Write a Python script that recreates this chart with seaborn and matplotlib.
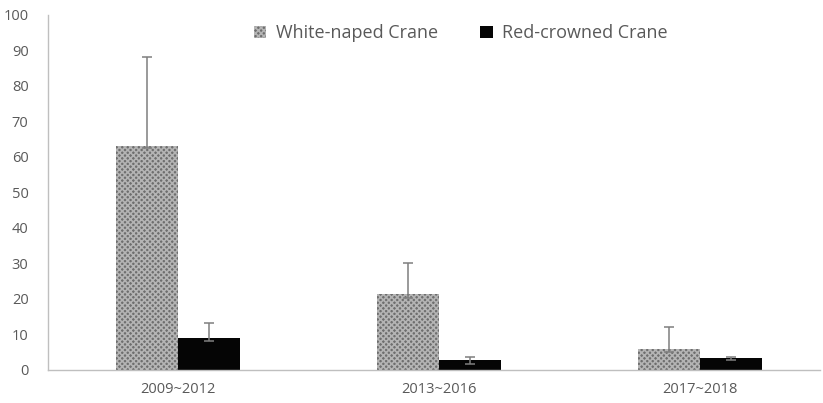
"""Crane counts by period - bar chart with error bars"""
import matplotlib.pyplot as plt
import matplotlib.patches as mpatches
import numpy as np
import pandas as pd
import seaborn as sns

periods = ["2009~2012", "2013~2016", "2017~2018"]
species = ["White-naped Crane", "Red-crowned Crane"]
white_naped = [63.1, 21.3, 5.8]
red_crowned = [9.1, 2.7, 3.3]
white_err_up = [25.0, 8.7, 6.2]
white_err_down = [0.6, 0.9, 0.6]
red_err_up = [4.2, 1.0, 0.5]
red_err_down = [0.9, 1.0, 0.6]

sns.set_theme(style="white")
plt.rcParams["font.family"] = ["Open Sans", "DejaVu Sans"]
plt.rcParams["hatch.linewidth"] = 1.2

df = pd.DataFrame({
    "period": periods * 2,
    "species": [species[0]] * 3 + [species[1]] * 3,
    "value": white_naped + red_crowned,
})

fig = plt.figure(figsize=(8.23, 4.03), dpi=100)
ax = fig.add_axes([0.0583, 0.0819, 0.9377, 0.8809])

sns.barplot(data=df, x="period", y="value", hue="species", hue_order=species,
            palette=["#6e6e6e", "#050505"], width=0.475, gap=0, errorbar=None,
            saturation=1, legend=False, ax=ax)

for cont in ax.containers:
    for bar in cont:
        bar.set_linewidth(0)
# 체크무늬 (white-naped)
for bar in ax.containers[0]:
    bar.set_hatch("xxxxxx")
    bar.set_edgecolor("#b4b4b4")

err_sets = [(white_err_down, white_err_up), (red_err_down, red_err_up)]
for cont, vals, (dn, up) in zip(ax.containers, [white_naped, red_crowned], err_sets):
    xs = [b.get_x() + b.get_width() / 2 for b in cont]
    ax.errorbar(xs, vals, yerr=[dn, up], fmt="none", ecolor="#7f7f7f",
                elinewidth=1.1, capsize=3.5, capthick=1.1, zorder=5)

ax.set_ylim(0, 100)
ax.set_xlim(-0.5, 2.46)
ax.set_yticks(np.arange(0, 101, 10))
ax.set_xlabel("")
ax.set_ylabel("")
ax.tick_params(axis="both", length=0, labelsize=10.5, labelcolor="#595959")
ax.tick_params(axis="y", pad=14)
ax.tick_params(axis="x", pad=9)
for s in ["top", "right"]:
    ax.spines[s].set_visible(False)
for s in ["left", "bottom"]:
    ax.spines[s].set_color("#bfbfbf")
    ax.spines[s].set_linewidth(1)

handles = [
    mpatches.Patch(facecolor="#6e6e6e", hatch="xxxxxx", edgecolor="#b4b4b4", linewidth=0),
    mpatches.Patch(facecolor="#050505", linewidth=0),
]
leg = ax.legend(handles, species, ncol=2, frameon=False, loc="upper center",
                bbox_to_anchor=(0.535, 1.019), fontsize=13, handlelength=0.7,
                handleheight=0.7, handletextpad=0.55, columnspacing=2.3)
for t in leg.get_texts():
    t.set_color("#595959")

plt.savefig("out.png", dpi=100)
plt.close()
